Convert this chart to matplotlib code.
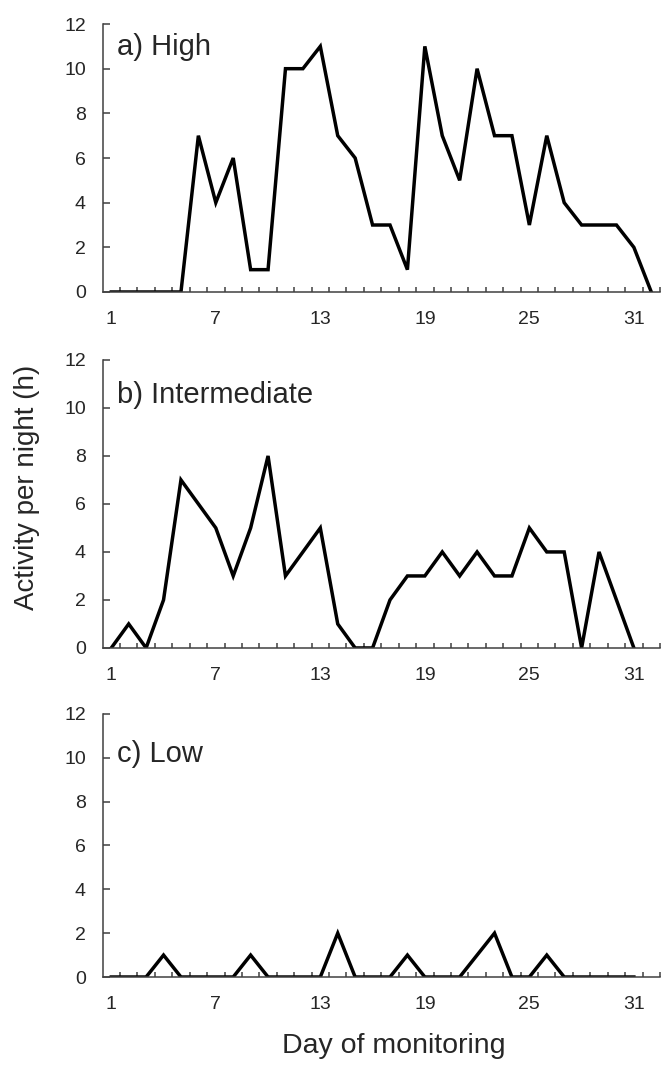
import numpy as np
import matplotlib
matplotlib.use("Agg")
import matplotlib.pyplot as plt

plt.rcParams["font.family"] = ["Liberation Sans", "DejaVu Sans"]

days = list(range(1, 33))
tick_days = [1, 7, 13, 19, 25, 31]
y_ticks = [0, 2, 4, 6, 8, 10, 12]

high = [0, 0, 0, 0, 0, 7, 4, 6, 1, 1, 10, 10, 11, 7, 6, 3,
        3, 1, 11, 7, 5, 10, 7, 7, 3, 7, 4, 3, 3, 3, 2, 0]
intermediate = [0, 1, 0, 2, 7, 6, 5, 3, 5, 8, 3, 4, 5, 1, 0, 0,
                2, 3, 3, 4, 3, 4, 3, 3, 5, 4, 4, 0, 4, 2, 0]
low = [0, 0, 0, 1, 0, 0, 0, 0, 1, 0, 0, 0, 0, 2, 0, 0,
       0, 1, 0, 0, 0, 1, 2, 0, 0, 1, 0, 0, 0, 0, 0]

panels = [
    ("a) High", high, [0.154, 0.7266, 0.837, 0.2509], 0.884),
    ("b) Intermediate", intermediate, [0.154, 0.3933, 0.837, 0.2697], 0.851),
    ("c) Low", low, [0.154, 0.0852, 0.837, 0.2463], 0.817),
]

spine_col = "#404040"
text_col = "#262626"

fig = plt.figure(figsize=(6.66, 10.68), dpi=100)

for label, values, rect, label_y in panels:
    ax = fig.add_axes(rect)
    ax.plot(days[:len(values)], values, color="black", lw=2.5,
            solid_joinstyle="miter")
    ax.set_xlim(0.5, 32.5)
    ax.set_ylim(0, 12)
    for side in ["top", "right"]:
        ax.spines[side].set_visible(False)
    for side in ["left", "bottom"]:
        ax.spines[side].set_color(spine_col)
        ax.spines[side].set_linewidth(1.1)
    ax.set_yticks(y_ticks)
    ax.tick_params(axis="y", direction="in", length=4.8, width=1.1,
                   color=spine_col, labelsize=14, labelcolor=text_col, pad=12)
    ax.set_xticks(tick_days)
    ax.set_xticks(np.arange(1.5, 33, 1), minor=True)
    ax.tick_params(axis="x", which="major", length=0, labelsize=14,
                   labelcolor=text_col, pad=13.5)
    ax.tick_params(axis="x", which="minor", direction="in", length=3.6,
                   width=1.1, color=spine_col)
    ax.text(0.025, label_y, label, transform=ax.transAxes, fontsize=21,
            color=text_col, va="baseline", ha="left")

fig.text(0.591, 0.014, "Day of monitoring", fontsize=20.5, color=text_col,
         ha="center", va="baseline")
fig.text(0.04, 0.544, "Activity per night (h)", fontsize=20, color=text_col,
         rotation=90, ha="center", va="center")

fig.savefig("out.png", dpi=100)
